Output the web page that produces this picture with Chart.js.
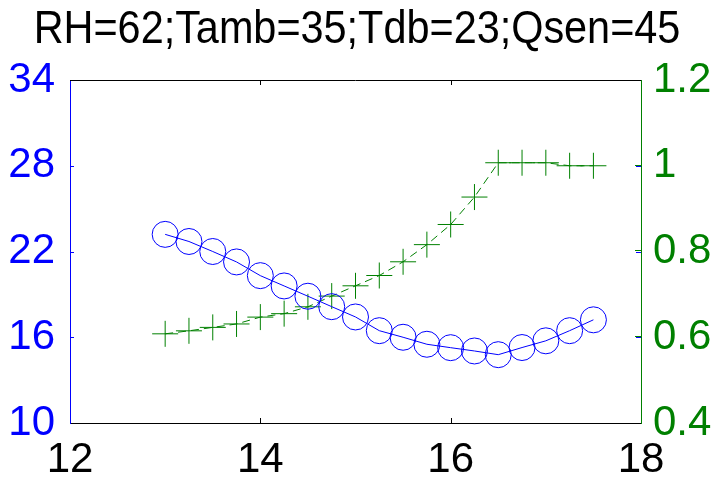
<!DOCTYPE html>
<html>
<head>
<meta charset="utf-8">
<script src="https://cdn.jsdelivr.net/npm/chart.js@4.4.1/dist/chart.umd.min.js"></script>
<style>
  html, body { margin: 0; padding: 0; background: #fff; }
  #wrap { width: 714px; height: 480px; }
</style>
</head>
<body>
<div id="wrap"><canvas id="chart" width="714" height="480"></canvas></div>
<script>
const titleText = 'RH=62;Tamb=35;Tdb=23;Qsen=45';

const xValues = [13, 13.25, 13.5, 13.75, 14, 14.25, 14.5, 14.75, 15, 15.25,
  15.5, 15.75, 16, 16.25, 16.5, 16.75, 17, 17.25, 17.5];
// left axis, blue circles
const leftValues = [23.2, 22.7, 22.0, 21.27, 20.31, 19.59, 18.87, 18.14, 17.42, 16.46,
  16.0, 15.51, 15.27, 15.04, 14.78, 15.28, 15.75, 16.46, 17.22];
// right axis, green crosses
const rightValues = [0.608, 0.615, 0.623, 0.631, 0.647, 0.655, 0.671, 0.696, 0.72, 0.744,
  0.776, 0.816, 0.863, 0.927, 1.007, 1.007, 1.007, 1.0, 1.0];

const xTicks = [12, 14, 16, 18];
const leftTicks = [10, 16, 22, 28, 34];
const rightTicks = [0.4, 0.6, 0.8, 1, 1.2];

const BLUE = '#0000ff';
const GREEN = '#008000';
const FONT = '"Liberation Sans", Arial, sans-serif';

function toPoints(ys) {
  return xValues.map((x, i) => ({ x, y: ys[i] }));
}

function fixedTicks(list) {
  return (scale) => {
    scale.ticks = list.map((v) => ({ value: v }));
  };
}

const decorPlugin = {
  id: 'decor',
  afterDraw(chart) {
    const { ctx, chartArea: a, scales } = chart;
    ctx.save();
    ctx.lineWidth = 1;

    // top edge of the box
    ctx.strokeStyle = '#000';
    ctx.beginPath();
    ctx.moveTo(a.left, a.top + 0.5);
    ctx.lineTo(a.right, a.top + 0.5);
    ctx.stroke();

    // inward ticks, x axis (bottom and top)
    xTicks.slice(1, -1).forEach((v) => {
      const px = Math.round(scales.x.getPixelForValue(v)) + 0.5;
      ctx.beginPath();
      ctx.moveTo(px, a.bottom);
      ctx.lineTo(px, a.bottom - 5);
      ctx.moveTo(px, a.top);
      ctx.lineTo(px, a.top + 5);
      ctx.stroke();
    });

    // inward ticks, left axis (both sides)
    ctx.strokeStyle = BLUE;
    leftTicks.slice(1, -1).forEach((v) => {
      const py = Math.round(scales.y.getPixelForValue(v)) + 0.5;
      ctx.beginPath();
      ctx.moveTo(a.left, py);
      ctx.lineTo(a.left + 4, py);
      ctx.moveTo(a.right, py);
      ctx.lineTo(a.right - 5, py);
      ctx.stroke();
    });

    // inward ticks, right axis
    ctx.strokeStyle = GREEN;
    rightTicks.slice(1, -1).forEach((v) => {
      const py = Math.round(scales.y1.getPixelForValue(v)) - 0.5;
      ctx.beginPath();
      ctx.moveTo(a.right, py);
      ctx.lineTo(a.right - 6, py);
      ctx.stroke();
    });

    // title, slightly condensed like the original
    ctx.fillStyle = '#000';
    ctx.font = '46px ' + FONT;
    ctx.textAlign = 'center';
    ctx.textBaseline = 'alphabetic';
    ctx.translate(chart.width / 2, 43);
    ctx.scale(0.9, 1);
    ctx.fillText(titleText, 0, 0);
    ctx.restore();
  },
};

new Chart(document.getElementById('chart'), {
  type: 'scatter',
  data: {
    datasets: [
      {
        label: 'left',
        data: toPoints(leftValues),
        yAxisID: 'y',
        showLine: true,
        borderColor: BLUE,
        borderWidth: 1,
        backgroundColor: 'rgba(0,0,0,0)',
        pointStyle: 'circle',
        pointRadius: 13,
        pointBorderWidth: 1,
        pointBorderColor: BLUE,
        pointBackgroundColor: 'rgba(0,0,0,0)',
      },
      {
        label: 'right',
        data: toPoints(rightValues),
        yAxisID: 'y1',
        showLine: true,
        borderColor: GREEN,
        borderWidth: 1,
        borderDash: [8, 5],
        backgroundColor: 'rgba(0,0,0,0)',
        pointStyle: 'cross',
        pointRadius: 13,
        pointBorderWidth: 1,
        pointBorderColor: GREEN,
      },
    ],
  },
  options: {
    responsive: false,
    animation: false,
    layout: { padding: { top: 80, left: 0, right: 0, bottom: 0 } },
    plugins: {
      legend: { display: false },
      tooltip: { enabled: false },
      title: { display: false },
    },
    scales: {
      x: {
        type: 'linear',
        min: 12,
        max: 18,
        afterBuildTicks: fixedTicks(xTicks),
        afterFit: (s) => { s.height = 57; },
        grid: { display: false, drawTicks: false },
        border: { display: true, color: '#000', width: 1 },
        ticks: { color: '#000', padding: 12, font: { family: FONT, size: 42 } },
      },
      y: {
        type: 'linear',
        position: 'left',
        min: 10,
        max: 34,
        afterBuildTicks: fixedTicks(leftTicks),
        afterFit: (s) => { s.width = 70; },
        grid: { display: false, drawTicks: false },
        border: { display: true, color: BLUE, width: 1 },
        ticks: { color: BLUE, padding: 15, font: { family: FONT, size: 42 } },
      },
      y1: {
        type: 'linear',
        position: 'right',
        min: 0.4,
        max: 1.2,
        afterBuildTicks: fixedTicks(rightTicks),
        afterFit: (s) => { s.width = 73; },
        grid: { display: false, drawTicks: false },
        border: { display: true, color: GREEN, width: 1 },
        ticks: {
          color: GREEN,
          padding: 12,
          font: { family: FONT, size: 42 },
          callback: (v) => String(v),
        },
      },
    },
  },
  plugins: [decorPlugin],
});
</script>
</body>
</html>
